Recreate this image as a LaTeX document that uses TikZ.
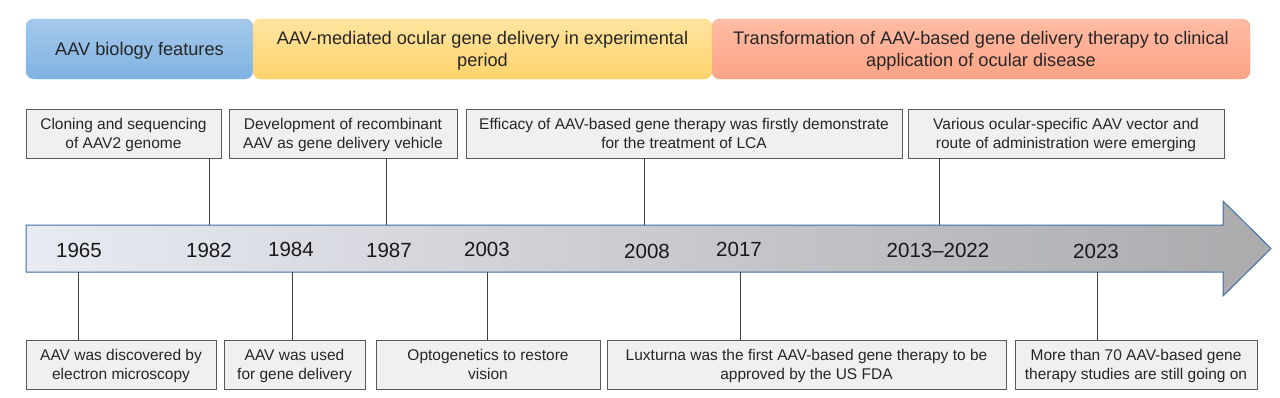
\documentclass[tikz,border=0pt]{standalone}
\usepackage{fontspec}
\setmainfont{Liberation Sans}
\usepackage{tikz}
\usetikzlibrary{positioning}

\definecolor{azulA}{HTML}{A5C9EC}
\definecolor{azulB}{HTML}{7EB2E1}
\definecolor{azulC}{HTML}{8CBBE5}
\definecolor{amarA}{HTML}{FFE4A0}
\definecolor{amarB}{HTML}{FFD36C}
\definecolor{amarC}{HTML}{FFD458}
\definecolor{laraA}{HTML}{FFBCA5}
\definecolor{laraB}{HTML}{FCA385}
\definecolor{laraC}{HTML}{F5A282}
\definecolor{caixa}{HTML}{F0F0F0}
\definecolor{borda}{HTML}{595959}
\definecolor{seta}{HTML}{3F6EA3}
\definecolor{setaA}{HTML}{E8EBF2}
\definecolor{setaB}{HTML}{ABABAE}

\tikzset{
    fase/.style={rounded corners=8pt, minimum height=60pt, inner sep=0pt, text depth=0pt,
        align=center, text=black!85, font=\fontsize{18.2}{22}\selectfont},
    evento/.style={draw=borda, fill=caixa, line width=0.9pt, minimum height=49pt,
        inner sep=0pt, text depth=0pt, align=center, text=black!85,
        font=\fontsize{15.5}{19.5}\selectfont},
    ano/.style={anchor=base, inner sep=0pt, text=black!90, font=\fontsize{20.5}{24}\selectfont},
    conector/.style={draw=black!75, line width=0.9pt}
}

\begin{document}
\begin{tikzpicture}[x=1pt, y=-1pt]
    \useasboundingbox (0,0) rectangle (1280,397);

    % Fases
    \node[fase, draw=azulC, top color=azulA, bottom color=azulB, minimum width=227pt]
        (fase1) at (139.5,49) {AAV biology features};
    \node[fase, draw=laraC, top color=laraA, bottom color=laraB, minimum width=538pt]
        (fase3) at (981,49) {Transformation of AAV-based gene delivery therapy to clinical\\application of ocular disease};
    \node[fase, draw=amarC, top color=amarA, bottom color=amarB, minimum width=459pt]
        (fase2) at (482.5,49) {AAV-mediated ocular gene delivery in experimental\\period};

    % Seta do tempo
    \draw[seta, line width=1pt, line join=miter, left color=setaA, right color=setaB]
        (26,225) -- (1223,225) -- (1223,201) -- (1271,248.5) -- (1223,296)
        -- (1223,272) -- (26,272) -- cycle;
    \coordinate (setaTopo) at (0,225);
    \coordinate (setaBase) at (0,272);

    % Anos
    \node[ano] (a1965) at (79,257) {1965};
    \node[ano] (a1982) at (209,257) {1982};
    \node[ano] (a1984) at (291,256) {1984};
    \node[ano] (a1987) at (389,257) {1987};
    \node[ano] (a2003) at (487,256) {2003};
    \node[ano] (a2008) at (647,258) {2008};
    \node[ano] (a2017) at (739,256) {2017};
    \node[ano] (a2013) at (938,257) {2013--2022};
    \node[ano] (a2023) at (1096,258) {2023};

    % Eventos de cima
    \node[evento, minimum width=195pt] (t1) at (123.5,133.5) {Cloning and sequencing\\of AAV2 genome};
    \node[evento, minimum width=228pt] (t2) at (343,133.5) {Development of recombinant\\AAV as gene delivery vehicle};
    \node[evento, minimum width=436pt] (t3) at (684,133.5) {Efficacy of AAV-based gene therapy was firstly demonstrate\\for the treatment of LCA};
    \node[evento, minimum width=316pt] (t4) at (1066,133.5) {Various ocular-specific AAV vector and\\route of administration were emerging};

    % Eventos de baixo
    \node[evento, minimum width=190pt] (b1) at (121,364.5) {AAV was discovered by\\electron microscopy};
    \node[evento, minimum width=141pt] (b2) at (294.5,364.5) {AAV was used\\for gene delivery};
    \node[evento, minimum width=224pt] (b3) at (488,364.5) {Optogenetics to restore\\vision};
    \node[evento, minimum width=399pt] (b4) at (806.5,364.5) {Luxturna was the first AAV-based gene therapy to be\\approved by the US FDA};
    \node[evento, minimum width=242pt] (b5) at (1136,364.5) {More than 70 AAV-based gene\\therapy studies are still going on};

    % Ligacoes
    \coordinate (k1982) at (209,0);
    \coordinate (k1987) at (386,0);
    \coordinate (k2008) at (644,0);
    \coordinate (k2013) at (939,0);
    \coordinate (k1965) at (78,0);
    \coordinate (k1984) at (292,0);
    \coordinate (k2003) at (487,0);
    \coordinate (k2017) at (740,0);
    \coordinate (k2023) at (1097,0);

    \draw[conector] (k1982 |- setaTopo) -- (k1982 |- t1.south);
    \draw[conector] (k1987 |- setaTopo) -- (k1987 |- t2.south);
    \draw[conector] (k2008 |- setaTopo) -- (k2008 |- t3.south);
    \draw[conector] (k2013 |- setaTopo) -- (k2013 |- t4.south);

    \draw[conector] (k1965 |- setaBase) -- (k1965 |- b1.north);
    \draw[conector] (k1984 |- setaBase) -- (k1984 |- b2.north);
    \draw[conector] (k2003 |- setaBase) -- (k2003 |- b3.north);
    \draw[conector] (k2017 |- setaBase) -- (k2017 |- b4.north);
    \draw[conector] (k2023 |- setaBase) -- (k2023 |- b5.north);
\end{tikzpicture}
\end{document}
